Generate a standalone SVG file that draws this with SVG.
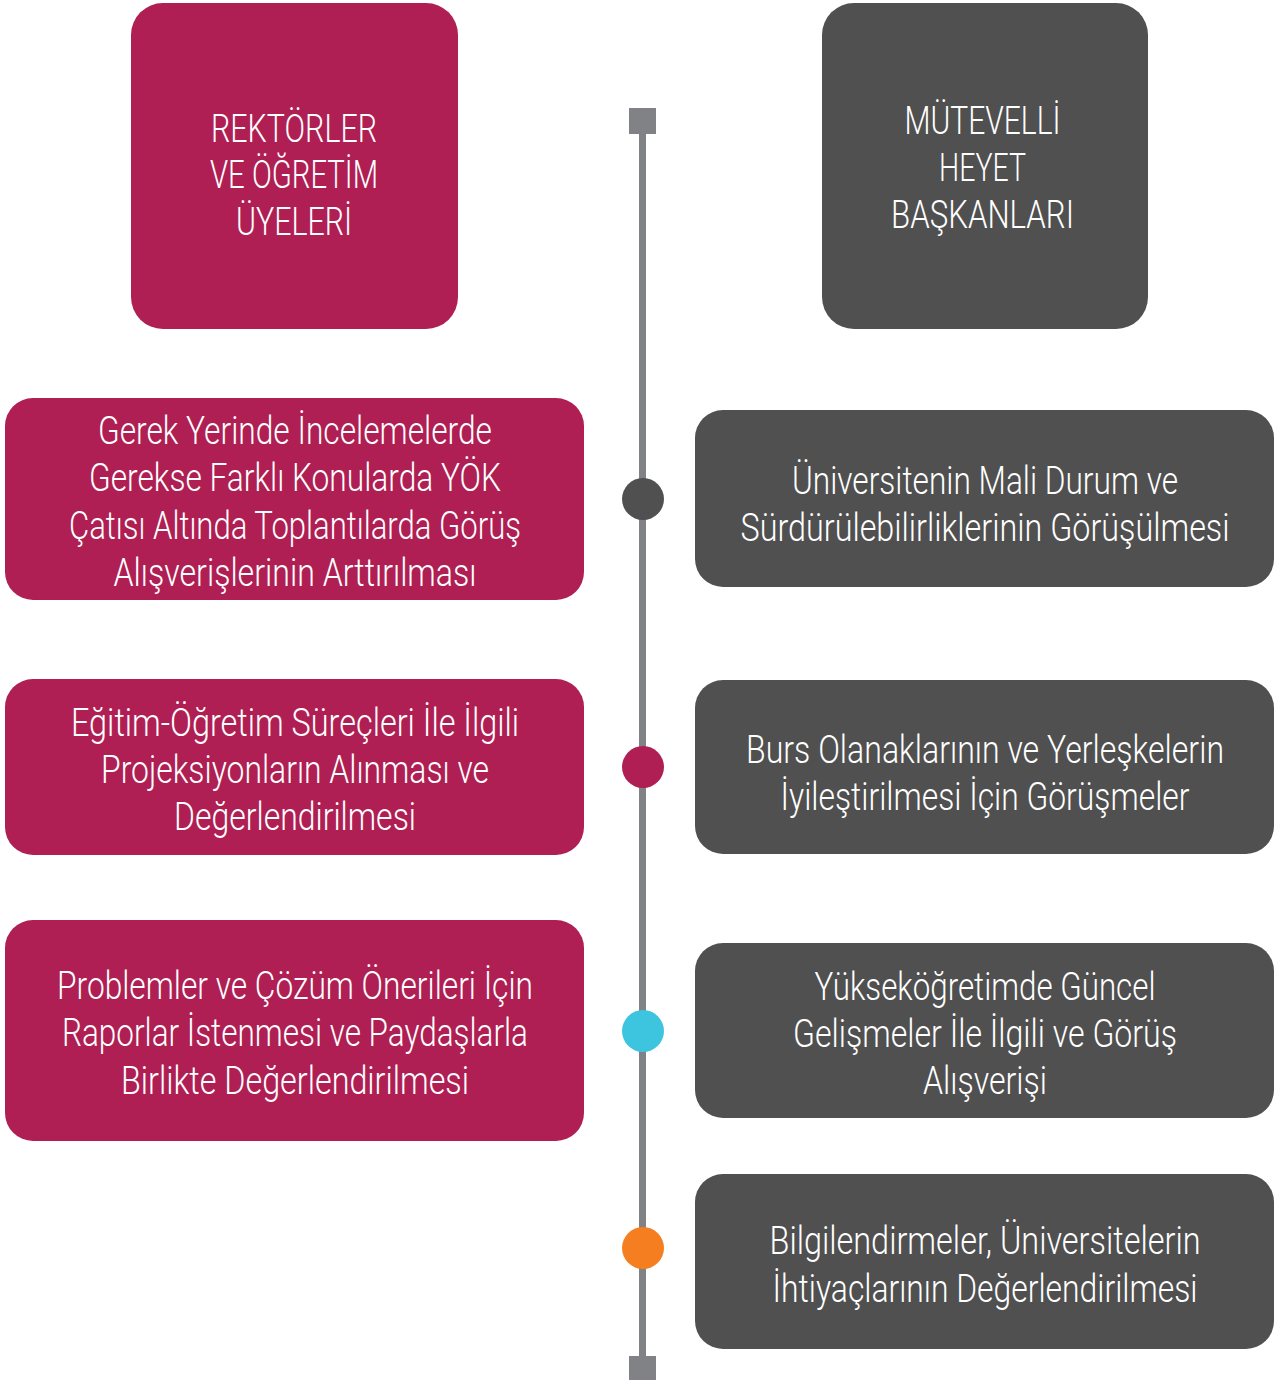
<svg xmlns="http://www.w3.org/2000/svg" width="1282" height="1380" viewBox="0 0 1282 1380">
<style>
.m{fill:#AF1F53}
.g{fill:#505050}
.t{font-family:Roboto,"Liberation Sans",sans-serif;font-weight:300;font-size:38px;fill:#ffffff;text-anchor:middle}
.tl{fill:#808285}
</style>
<rect width="1282" height="1380" fill="#ffffff"/>
<g id="connectors">
<rect class="tl" x="639" y="121" width="7" height="1247"/>
<rect class="tl" x="629" y="108" width="27" height="26"/>
<rect class="tl" x="629" y="1356" width="27" height="26"/>
</g>
<g id="dots">
<circle cx="643" cy="499" r="21" fill="#505050"/>
<circle cx="643" cy="767" r="21" fill="#AF1F53"/>
<circle cx="643" cy="1031" r="21" fill="#3DC5E0"/>
<circle cx="643" cy="1248" r="21" fill="#F47E20"/>
</g>
<g id="rektorler">
<rect class="m" x="131" y="3" width="327" height="326" rx="32"/>
<text class="t" transform="matrix(0.8,0,0,1,294,0)"><tspan x="0" y="142" textLength="207.5" lengthAdjust="spacingAndGlyphs">REKTÖRLER</tspan><tspan x="0" y="188" textLength="210" lengthAdjust="spacingAndGlyphs">VE ÖĞRETİM</tspan><tspan x="0" y="235" textLength="145" lengthAdjust="spacingAndGlyphs">ÜYELERİ</tspan></text>
</g>
<g id="mutevelli">
<rect class="g" x="822" y="3" width="326" height="326" rx="32"/>
<text class="t" transform="matrix(0.8,0,0,1,982.5,0)"><tspan x="0" y="134" textLength="195" lengthAdjust="spacingAndGlyphs">MÜTEVELLİ</tspan><tspan x="0" y="181" textLength="108.75" lengthAdjust="spacingAndGlyphs">HEYET</tspan><tspan x="0" y="228" textLength="228.75" lengthAdjust="spacingAndGlyphs">BAŞKANLARI</tspan></text>
</g>
<g id="l1">
<rect class="m" x="5" y="398" width="579" height="202" rx="28"/>
<text class="t" transform="matrix(0.8,0,0,1,295,0)"><tspan x="0" y="444" textLength="492.5" lengthAdjust="spacingAndGlyphs">Gerek Yerinde İncelemelerde</tspan><tspan x="0" y="491" textLength="515" lengthAdjust="spacingAndGlyphs">Gerekse Farklı Konularda YÖK</tspan><tspan x="0" y="539" textLength="565" lengthAdjust="spacingAndGlyphs">Çatısı Altında Toplantılarda Görüş</tspan><tspan x="0" y="586" textLength="453.75" lengthAdjust="spacingAndGlyphs">Alışverişlerinin Arttırılması</tspan></text>
</g>
<g id="l2">
<rect class="m" x="5" y="679" width="579" height="176" rx="28"/>
<text class="t" transform="matrix(0.8,0,0,1,295,0)"><tspan x="0" y="736" textLength="560" lengthAdjust="spacingAndGlyphs">Eğitim-Öğretim Süreçleri İle İlgili</tspan><tspan x="0" y="783" textLength="485" lengthAdjust="spacingAndGlyphs">Projeksiyonların Alınması ve</tspan><tspan x="0" y="830" textLength="302.5" lengthAdjust="spacingAndGlyphs">Değerlendirilmesi</tspan></text>
</g>
<g id="l3">
<rect class="m" x="5" y="920" width="579" height="221" rx="28"/>
<text class="t" transform="matrix(0.8,0,0,1,295,0)"><tspan x="0" y="999" textLength="595" lengthAdjust="spacingAndGlyphs">Problemler ve Çözüm Önerileri İçin</tspan><tspan x="0" y="1046" textLength="582.5" lengthAdjust="spacingAndGlyphs">Raporlar İstenmesi ve Paydaşlarla</tspan><tspan x="0" y="1094" textLength="435" lengthAdjust="spacingAndGlyphs">Birlikte Değerlendirilmesi</tspan></text>
</g>
<g id="r1">
<rect class="g" x="695" y="410" width="579" height="177" rx="28"/>
<text class="t" transform="matrix(0.8,0,0,1,985,0)"><tspan x="0" y="494" textLength="482.5" lengthAdjust="spacingAndGlyphs">Üniversitenin Mali Durum ve</tspan><tspan x="0" y="541" textLength="611.25" lengthAdjust="spacingAndGlyphs">Sürdürülebilirliklerinin Görüşülmesi</tspan></text>
</g>
<g id="r2">
<rect class="g" x="695" y="680" width="579" height="174" rx="28"/>
<text class="t" transform="matrix(0.8,0,0,1,985,0)"><tspan x="0" y="763" textLength="597.5" lengthAdjust="spacingAndGlyphs">Burs Olanaklarının ve Yerleşkelerin</tspan><tspan x="0" y="810" textLength="511.25" lengthAdjust="spacingAndGlyphs">İyileştirilmesi İçin Görüşmeler</tspan></text>
</g>
<g id="r3">
<rect class="g" x="695" y="943" width="579" height="175" rx="28"/>
<text class="t" transform="matrix(0.8,0,0,1,985,0)"><tspan x="0" y="1000" textLength="426.25" lengthAdjust="spacingAndGlyphs">Yükseköğretimde Güncel</tspan><tspan x="0" y="1047" textLength="480" lengthAdjust="spacingAndGlyphs">Gelişmeler İle İlgili ve Görüş</tspan><tspan x="0" y="1094" textLength="155" lengthAdjust="spacingAndGlyphs">Alışverişi</tspan></text>
</g>
<g id="r4">
<rect class="g" x="695" y="1174" width="579" height="175" rx="28"/>
<text class="t" transform="matrix(0.8,0,0,1,985,0)"><tspan x="0" y="1254" textLength="538.75" lengthAdjust="spacingAndGlyphs">Bilgilendirmeler, Üniversitelerin</tspan><tspan x="0" y="1302" textLength="531.25" lengthAdjust="spacingAndGlyphs">İhtiyaçlarının Değerlendirilmesi</tspan></text>
</g>
</svg>
